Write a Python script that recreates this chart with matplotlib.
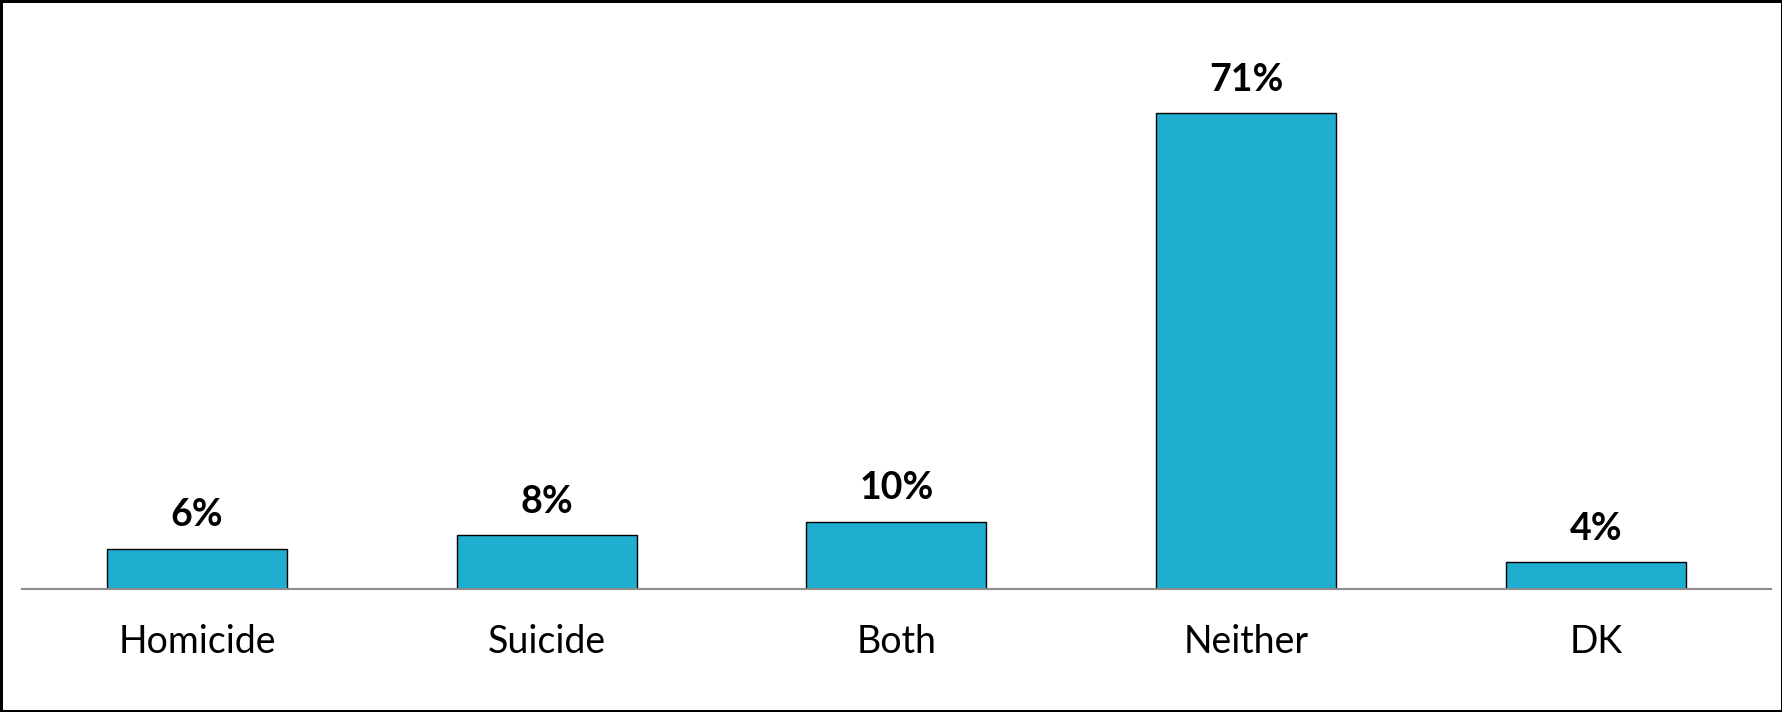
import matplotlib.pyplot as plt

# data
categories = ["Homicide", "Suicide", "Both", "Neither", "DK"]
values = [6, 8, 10, 71, 4]
value_labels = ["6%", "8%", "10%", "71%", "4%"]

BAR_COLOR = "#20AED0"
FONT = ["Lato", "DejaVu Sans"]


def main() -> None:
    fig = plt.figure(figsize=(17.83, 7.12), dpi=100,
                     edgecolor="black", linewidth=2.5)
    ax = fig.add_axes([0.0125, 0.1728, 0.9805, 0.7528])

    x = range(len(categories))
    bars = ax.bar(x, values, width=0.515, color=BAR_COLOR,
                  edgecolor="black", linewidth=1.0)

    for bar, label in zip(bars, value_labels):
        ax.annotate(label,
                    (bar.get_x() + bar.get_width() / 2, bar.get_height()),
                    xytext=(0, 12), textcoords="offset points",
                    ha="center", va="bottom",
                    fontsize=27, fontweight="bold", family=FONT)

    ax.set_xlim(-0.5, len(categories) - 0.5)
    ax.set_ylim(0, 80)
    ax.set_xticks(list(x))
    ax.set_xticklabels(categories, fontsize=27, family=FONT)
    ax.tick_params(axis="x", length=0, pad=25)
    ax.set_yticks([])

    for side in ["top", "left", "right"]:
        ax.spines[side].set_visible(False)
    ax.spines["bottom"].set_color("#8c8c8c")
    ax.spines["bottom"].set_linewidth(1.5)

    fig.savefig("out.png", dpi=100, edgecolor=fig.get_edgecolor())
    plt.close(fig)


if __name__ == "__main__":
    main()
